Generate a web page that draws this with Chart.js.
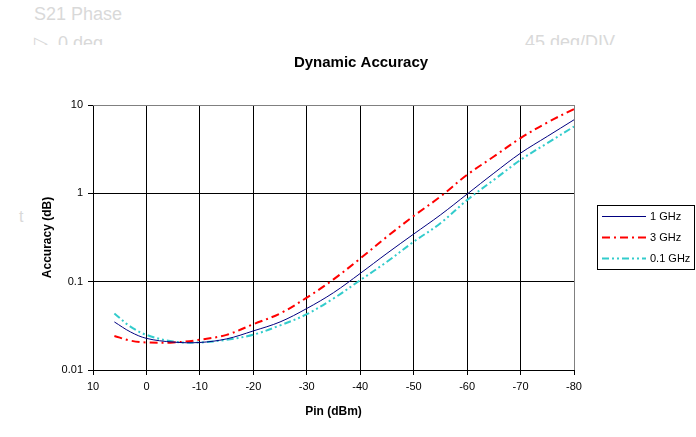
<!DOCTYPE html>
<html>
<head>
<meta charset="utf-8">
<script src="https://cdn.jsdelivr.net/npm/chart.js@4.4.0/dist/chart.umd.min.js"></script>
<style>
  html, body { margin: 0; padding: 0; background: #fff; }
  #wrap { position: relative; width: 696px; height: 437px; overflow: hidden; }
  #chart { position: absolute; left: 0; top: 0; }
  .ghost { position: absolute; color: #d9d9d9; font-family: 'Liberation Sans', Arial, sans-serif; font-size: 18px; white-space: nowrap; }
  #ghostTop { position: absolute; left: 0; top: 0; width: 696px; height: 45px; overflow: hidden; }
</style>
</head>
<body>
<div id="wrap">
  <div id="ghostTop">
    <div class="ghost" style="left:34px; top:4px;">S21 Phase</div>
    <div class="ghost" style="left:34px; top:32px;">&#9655;&nbsp;&nbsp;0 deg</div>
    <div class="ghost" style="left:525px; top:32px;">45 deg/DIV</div>
  </div>
  <div class="ghost" style="left:19px; top:208px; font-size:16px;">t</div>
  <canvas id="chart" width="696" height="437"></canvas>
</div>
<script>
// Input power (dBm) where the curves were read
const pinValues = [6, 3, 0, -5, -10, -15, -20, -25, -30, -35, -40, -45, -50, -55, -60, -65, -70, -75, -80];

// Accuracy (dB) per series
const acc1GHz  = [0.035, 0.027, 0.0228, 0.0207, 0.0205, 0.0225, 0.0277, 0.035, 0.0497, 0.075, 0.124, 0.209, 0.346, 0.569, 0.98, 1.69, 2.85, 4.41, 6.8];
const acc3GHz  = [0.0243, 0.0215, 0.0205, 0.0205, 0.022, 0.025, 0.033, 0.0436, 0.066, 0.106, 0.183, 0.323, 0.553, 0.919, 1.62, 2.61, 4.22, 6.34, 9.0];
const acc01GHz = [0.0436, 0.031, 0.025, 0.021, 0.0205, 0.022, 0.0251, 0.032, 0.0428, 0.0645, 0.104, 0.168, 0.283, 0.458, 0.84, 1.42, 2.39, 3.7, 5.7];

const seriesNames = ['1 GHz', '3 GHz', '0.1 GHz'];

// Axis ticks
const xTicks = [10, 0, -10, -20, -30, -40, -50, -60, -70, -80];
const yTicks = [0.01, 0.1, 1, 10];

const FONT = "'Liberation Sans', Arial, sans-serif";

function toPoints(values) {
    return pinValues.map((x, i) => ({ x: x, y: values[i] }));
}

// Draws the chart title and the boxed legend on the right
const extrasPlugin = {
    id: 'extras',
    afterDraw(chart) {
        const ctx = chart.ctx;
        const area = chart.chartArea;
        ctx.save();

        // grey frame on top and right like the original
        ctx.strokeStyle = '#808080';
        ctx.lineWidth = 1;
        ctx.beginPath();
        ctx.moveTo(area.left, area.top + 0.5);
        ctx.lineTo(area.right + 0.5, area.top + 0.5);
        ctx.lineTo(area.right + 0.5, area.bottom);
        ctx.stroke();

        // title
        ctx.fillStyle = '#000';
        ctx.font = 'bold 15px ' + FONT;
        ctx.textAlign = 'center';
        ctx.textBaseline = 'middle';
        ctx.fillText('Dynamic Accuracy', 361, 63);

        // legend
        const boxLeft = 597, boxTop = 205, boxRight = 694, boxBottom = 269;
        ctx.strokeStyle = '#000';
        ctx.strokeRect(boxLeft + 0.5, boxTop + 0.5, boxRight - boxLeft, boxBottom - boxTop);
        ctx.font = '11px ' + FONT;
        ctx.textAlign = 'left';
        chart.data.datasets.forEach((ds, i) => {
            const y = 216 + i * 21;
            ctx.strokeStyle = ds.borderColor;
            ctx.lineWidth = ds.borderWidth;
            ctx.setLineDash(ds.borderDash || []);
            ctx.beginPath();
            ctx.moveTo(602, y + 0.5);
            ctx.lineTo(646, y + 0.5);
            ctx.stroke();
            ctx.setLineDash([]);
            ctx.fillStyle = '#000';
            ctx.fillText(ds.label, 650, y + 1);
        });
        ctx.restore();
    }
};

const chartCanvas = document.getElementById('chart');
const accuracyChart = new Chart(chartCanvas.getContext('2d'), {
    type: 'line',
    data: {
        datasets: [{
            label: seriesNames[0],
            data: toPoints(acc1GHz),
            borderColor: '#000080',
            borderWidth: 1,
            tension: 0.35,
            pointRadius: 0,
            fill: false,
        }, {
            label: seriesNames[1],
            data: toPoints(acc3GHz),
            borderColor: '#ff0000',
            borderWidth: 2,
            borderDash: [8, 4, 2, 4],
            tension: 0.35,
            pointRadius: 0,
            fill: false,
        }, {
            label: seriesNames[2],
            data: toPoints(acc01GHz),
            borderColor: '#33cccc',
            borderWidth: 2,
            borderDash: [7, 3, 2, 3, 2, 3],
            tension: 0.35,
            pointRadius: 0,
            fill: false,
        }]
    },
    options: {
        responsive: false,
        animation: false,
        devicePixelRatio: 1,
        layout: {
            padding: { top: 105, right: 122, left: 0, bottom: 0 }
        },
        plugins: {
            legend: { display: false },
            tooltip: { enabled: false },
            title: { display: false }
        },
        scales: {
            x: {
                type: 'linear',
                min: -80,
                max: 10,
                reverse: true,
                afterFit: (scale) => { scale.height = 67; },
                afterBuildTicks: (scale) => { scale.ticks = xTicks.map(v => ({ value: v })); },
                ticks: {
                    color: '#000',
                    font: { family: FONT, size: 11 },
                    padding: 5,
                    maxRotation: 0,
                    callback: (v) => String(v)
                },
                grid: {
                    color: (c) => (c.tick && c.tick.value === -80) ? '#808080' : '#000',
                    lineWidth: 1,
                    tickLength: 5,
                    tickColor: '#000'
                },
                border: { color: '#000' },
                title: {
                    display: true,
                    text: 'Pin (dBm)',
                    color: '#000',
                    font: { family: FONT, size: 12, weight: 'bold' },
                    padding: { top: 0, bottom: 18 }
                }
            },
            y: {
                type: 'logarithmic',
                min: 0.01,
                max: 10,
                afterFit: (scale) => { scale.width = 93; },
                afterBuildTicks: (scale) => { scale.ticks = yTicks.map(v => ({ value: v })); },
                ticks: {
                    color: '#000',
                    font: { family: FONT, size: 11 },
                    padding: 5,
                    callback: (v) => String(v)
                },
                grid: {
                    color: (c) => (c.tick && c.tick.value === 10) ? '#808080' : '#000',
                    lineWidth: 1,
                    tickLength: 5,
                    tickColor: '#000'
                },
                border: { color: '#000' },
                title: {
                    display: true,
                    text: 'Accuracy (dB)',
                    color: '#000',
                    font: { family: FONT, size: 12, weight: 'bold' },
                    padding: { top: 40, bottom: 0 }
                }
            }
        }
    },
    plugins: [extrasPlugin]
});
</script>
</body>
</html>
